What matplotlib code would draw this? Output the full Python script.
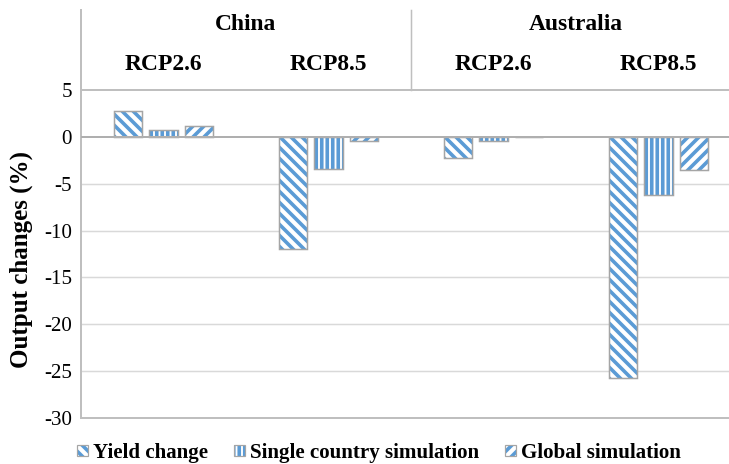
import matplotlib
matplotlib.use("Agg")
import matplotlib.pyplot as plt
import matplotlib.transforms as mtransforms
from matplotlib.patches import Patch
import numpy as np

# ---- data -------------------------------------------------------------
countries = ["China", "Australia"]
scenarios = ["RCP2.6", "RCP8.5", "RCP2.6", "RCP8.5"]
yield_change = [2.8, -12.0, -2.3, -25.7]
single_country = [0.7, -3.4, -0.4, -6.2]
global_sim = [1.2, -0.4, -0.05, -3.5]
series_names = ["Yield change", "Single country simulation", "Global simulation"]
y_ticks = [5, 0, -5, -10, -15, -20, -25, -30]

# ---- styling ----------------------------------------------------------
DPI = 66
W, H = 729, 464
PT = 72.0 / DPI  # points per pixel


def px(v):
    return v * PT


BLUE = "#5B9BD5"
EDGE = "#A5A5A5"
GRID = "#D9D9D9"
AXIS = "#BFBFBF"

plt.rcParams["font.family"] = ["Liberation Serif", "DejaVu Serif"]
plt.rcParams["hatch.linewidth"] = px(3.6)

fig = plt.figure(figsize=(W / DPI, H / DPI), dpi=DPI)
left, right, bottom, top = 81, 741, 418, 90
ax = fig.add_axes([left / W, (H - bottom) / H, (right - left) / W, (bottom - top) / H])

x = np.arange(len(scenarios))
width = 0.17
offset = 0.218
hatches = ["\\\\", "||", "//"]
all_series = [yield_change, single_country, global_sim]

for i, (vals, hatch) in enumerate(zip(all_series, hatches)):
    pos = x + (i - 1) * offset
    ax.bar(pos, vals, width, color="white", edgecolor=BLUE, linewidth=0,
           hatch=hatch, zorder=2)
    ax.bar(pos, vals, width, fill=False, edgecolor=EDGE, linewidth=px(1.5),
           zorder=3)

ax.set_xlim(-0.5, len(scenarios) - 0.5)
ax.set_ylim(-30, 5)
ax.set_yticks(y_ticks)
ax.set_yticklabels([str(t) for t in y_ticks])
ax.set_xticks([])
ax.tick_params(axis="y", length=0, pad=px(9), labelsize=px(21))

for t in [-5, -10, -15, -20, -25]:
    ax.axhline(t, color=GRID, linewidth=px(1.5), zorder=0)
ax.axhline(0, color="#AFAFAF", linewidth=px(2), zorder=4)
ax.axhline(5, color=AXIS, linewidth=px(2), zorder=4, clip_on=False)

for side in ["top", "right"]:
    ax.spines[side].set_visible(False)
ax.spines["bottom"].set_color(AXIS)
ax.spines["bottom"].set_linewidth(px(2))
ax.spines["left"].set_color(AXIS)
ax.spines["left"].set_linewidth(px(2))

fig.text(21 / W, (H - 260) / H, "Output changes (%)", rotation=90,
         ha="center", va="center", fontsize=px(25), fontweight="bold")

# ---- header band ------------------------------------------------------
hdr = mtransforms.blended_transform_factory(ax.transData, fig.transFigure)
top_y = (H - 10) / H
ax.plot([-0.5, -0.5], [(H - top) / H, top_y], transform=hdr, color=AXIS,
        linewidth=px(2), clip_on=False)
ax.plot([1.5, 1.5], [(H - top) / H, top_y], transform=hdr, color=AXIS,
        linewidth=px(1.5), clip_on=False)

for ci, name in enumerate(countries):
    ax.text(2 * ci + 0.5, (H - 24) / H, name, transform=hdr, ha="center",
            va="center", fontsize=px(23.5), fontweight="bold")
for si, name in enumerate(scenarios):
    ax.text(si, (H - 64) / H, name, transform=hdr, ha="center",
            va="center", fontsize=px(23.5), fontweight="bold")

# ---- legend -----------------------------------------------------------
handles = []
for hatch in hatches:
    handles.append((Patch(facecolor="white", edgecolor=BLUE, linewidth=0, hatch=hatch),
                    Patch(fill=False, edgecolor=EDGE, linewidth=px(1.2))))
leg = fig.legend(handles, series_names, loc="center",
                 bbox_to_anchor=(379 / W, (H - 453) / H), ncol=3, frameon=False,
                 prop={"weight": "bold", "size": px(21)},
                 handlelength=0.5, handleheight=0.4, handletextpad=0.25,
                 columnspacing=1.25, borderpad=0, borderaxespad=0)

fig.savefig("out.png", dpi=DPI)
